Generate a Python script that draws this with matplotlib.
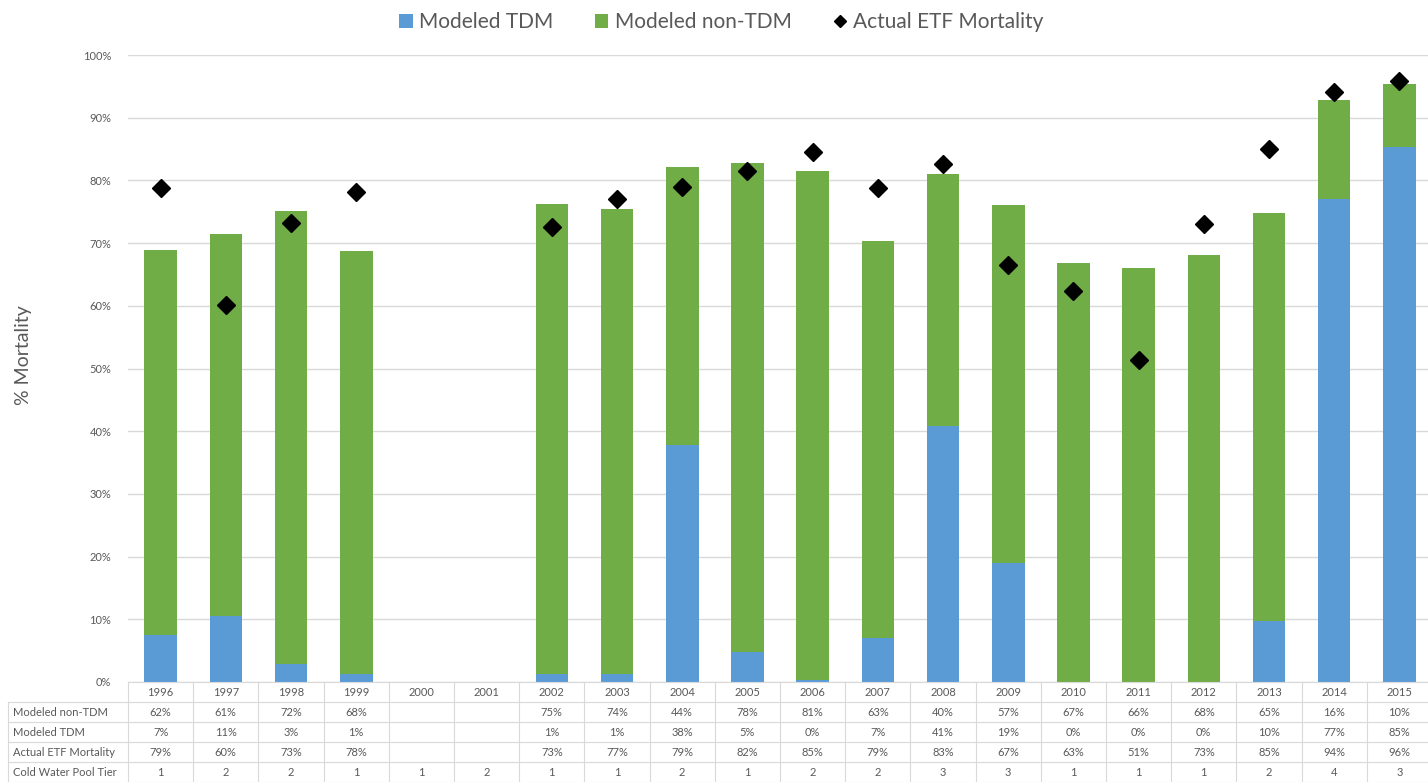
import matplotlib.pyplot as plt
import numpy as np
from matplotlib.lines import Line2D
from matplotlib.patches import Patch
from matplotlib.transforms import blended_transform_factory

plt.rcParams['font.family'] = ['Lato', 'DejaVu Sans']

years = ['1996', '1997', '1998', '1999', '2000', '2001', '2002', '2003', '2004', '2005',
         '2006', '2007', '2008', '2009', '2010', '2011', '2012', '2013', '2014', '2015']
# bar heights (fraction of 1)
tdm = [0.075, 0.105, 0.028, 0.012, np.nan, np.nan, 0.013, 0.013, 0.378, 0.048,
       0.003, 0.070, 0.408, 0.189, 0.0, 0.0, 0.0, 0.097, 0.770, 0.853]
total = [0.689, 0.714, 0.751, 0.688, np.nan, np.nan, 0.763, 0.754, 0.821, 0.828,
         0.815, 0.704, 0.810, 0.760, 0.668, 0.660, 0.681, 0.748, 0.929, 0.954]
actual = [0.788, 0.602, 0.732, 0.782, np.nan, np.nan, 0.725, 0.770, 0.790, 0.815,
          0.846, 0.788, 0.826, 0.665, 0.624, 0.514, 0.731, 0.850, 0.941, 0.959]

# table text
row_labels = ['Modeled non-TDM', 'Modeled TDM', 'Actual ETF Mortality', 'Cold Water Pool Tier']
tbl_nontdm = ['62%', '61%', '72%', '68%', '', '', '75%', '74%', '44%', '78%',
              '81%', '63%', '40%', '57%', '67%', '66%', '68%', '65%', '16%', '10%']
tbl_tdm = ['7%', '11%', '3%', '1%', '', '', '1%', '1%', '38%', '5%',
           '0%', '7%', '41%', '19%', '0%', '0%', '0%', '10%', '77%', '85%']
tbl_actual = ['79%', '60%', '73%', '78%', '', '', '73%', '77%', '79%', '82%',
              '85%', '79%', '83%', '67%', '63%', '51%', '73%', '85%', '94%', '96%']
tbl_tier = ['1', '2', '2', '1', '1', '2', '1', '1', '2', '1',
            '2', '2', '3', '3', '1', '1', '1', '2', '4', '3']

blue = '#5B9BD5'
green = '#70AD47'
grey_txt = '#595959'
grid_c = '#D9D9D9'

W, H = 1428, 782
fig = plt.figure(figsize=(W / 100, H / 100), dpi=100)
ax = fig.add_axes([128 / W, 100 / H, 1304 / W, 627 / H])

x = np.arange(len(years))
tdm_a = np.array(tdm)
nontdm_a = np.array(total) - tdm_a
ax.bar(x, tdm_a, width=0.5, color=blue, zorder=2)
ax.bar(x, nontdm_a, width=0.5, bottom=tdm_a, color=green, zorder=2)
ax.plot(x, actual, 'D', color='black', markersize=9.5, linestyle='none', zorder=3)

ax.set_xlim(-0.5, len(years) - 0.5)
ax.set_ylim(0, 1.0)
ax.set_yticks(np.arange(0, 1.01, 0.1))
ax.set_yticklabels(['%d%%' % v for v in range(0, 101, 10)], fontsize=8, color=grey_txt)
ax.tick_params(axis='y', length=0, pad=12)
ax.set_xticks([])
ax.grid(axis='y', color=grid_c, linewidth=1, zorder=0)
for s in ax.spines.values():
    s.set_visible(False)
ax.set_ylabel('% Mortality', fontsize=14, color=grey_txt)
ax.yaxis.set_label_coords(-0.074, 0.5215)

# data table under the plot: x in data units, y in axes fraction
tr = blended_transform_factory(ax.transData, ax.transAxes)
col_w = 1304 / len(years)          # px per column
lab_w = 120 / col_w                # label column width in data units
x_lab = -0.5 - lab_w
x_end = len(years) - 0.5
rh = 20 / 627                      # row height in axes fraction
rows = [tbl_nontdm, tbl_tdm, tbl_actual, tbl_tier]

line_kw = dict(color=grid_c, linewidth=0.8, transform=tr, clip_on=False)
ax.plot([-0.5, x_end], [0, 0], **line_kw)
for i in range(1, 6):
    ax.plot([x_lab, x_end], [-i * rh, -i * rh], **line_kw)
ax.plot([x_lab, x_lab], [-rh, -5 * rh], **line_kw)
for k in range(len(years) + 1):
    ax.plot([k - 0.5, k - 0.5], [0, -5 * rh], **line_kw)

txt_kw = dict(transform=tr, fontsize=8, color=grey_txt, va='center', clip_on=False)
for k, yr in enumerate(years):
    ax.text(k, -0.5 * rh, yr, ha='center', **txt_kw)
for i, (lab, vals) in enumerate(zip(row_labels, rows)):
    yc = -(i + 1.5) * rh
    ax.text(x_lab + 0.08, yc, lab, ha='left', **txt_kw)
    for k, v in enumerate(vals):
        ax.text(k, yc, v, ha='center', **txt_kw)

handles = [Patch(facecolor=blue, label='Modeled TDM'),
           Patch(facecolor=green, label='Modeled non-TDM'),
           Line2D([], [], marker='D', color='black', linestyle='none', markersize=6.5,
                  label='Actual ETF Mortality')]
fig.legend(handles=handles, loc='upper center', bbox_to_anchor=(0.505, 1.008), ncol=3,
           frameon=False, fontsize=15, handlelength=0.65, handleheight=0.65,
           handletextpad=0.3, columnspacing=2.0, labelcolor=grey_txt)

fig.savefig('out.png', dpi=100)
